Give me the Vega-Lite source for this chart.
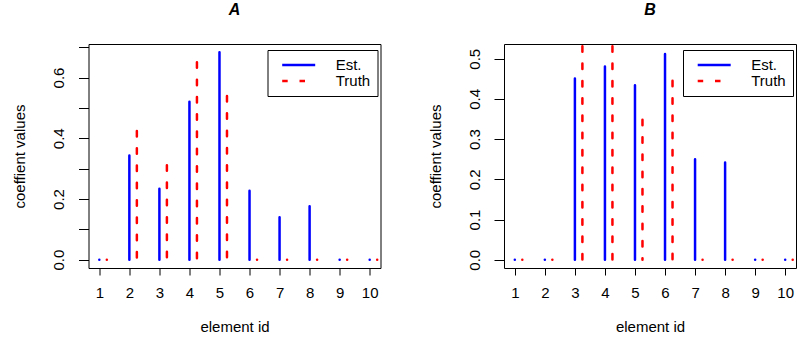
{
  "$schema": "https://vega.github.io/schema/vega-lite/v6.json",
  "background": "white",
  "padding": {"left": 11.5, "top": 1, "right": 0, "bottom": 0},
  "config": {
    "font": "Liberation Sans",
    "view": {"stroke": "#000000", "strokeWidth": 1},
    "axis": {"grid": false, "domain": false, "tickColor": "#000000", "tickWidth": 1, "labelColor": "#000000", "titleColor": "#000000", "labelFontSize": 15, "titleFontSize": 15, "titleFontWeight": "normal", "labelFont": "Liberation Sans", "titleFont": "Liberation Sans", "labelFlush": false, "labelOverlap": false},
    "title": {"fontSize": 16, "fontWeight": "bold", "fontStyle": "italic", "font": "Liberation Sans", "offset": 26, "color": "#000000", "anchor": "middle", "frame": "group"},
    "legend": {"labelFont": "Liberation Sans", "labelFontSize": 15, "labelColor": "#000000"}
  },
  "datasets": {
    "A": [
      {"id": 1, "series": "Est.", "value": 0}, {"id": 2, "series": "Est.", "value": 0.343}, {"id": 3, "series": "Est.", "value": 0.234}, {"id": 4, "series": "Est.", "value": 0.52}, {"id": 5, "series": "Est.", "value": 0.683}, {"id": 6, "series": "Est.", "value": 0.227}, {"id": 7, "series": "Est.", "value": 0.14}, {"id": 8, "series": "Est.", "value": 0.176}, {"id": 9, "series": "Est.", "value": 0}, {"id": 10, "series": "Est.", "value": 0},
      {"id": 1, "series": "Truth", "value": 0}, {"id": 2, "series": "Truth", "value": 0.424}, {"id": 3, "series": "Truth", "value": 0.311}, {"id": 4, "series": "Truth", "value": 0.65}, {"id": 5, "series": "Truth", "value": 0.539}, {"id": 6, "series": "Truth", "value": 0}, {"id": 7, "series": "Truth", "value": 0}, {"id": 8, "series": "Truth", "value": 0}, {"id": 9, "series": "Truth", "value": 0}, {"id": 10, "series": "Truth", "value": 0}
    ],
    "B": [
      {"id": 1, "series": "Est.", "value": 0}, {"id": 2, "series": "Est.", "value": 0}, {"id": 3, "series": "Est.", "value": 0.451}, {"id": 4, "series": "Est.", "value": 0.481}, {"id": 5, "series": "Est.", "value": 0.434}, {"id": 6, "series": "Est.", "value": 0.512}, {"id": 7, "series": "Est.", "value": 0.25}, {"id": 8, "series": "Est.", "value": 0.242}, {"id": 9, "series": "Est.", "value": 0}, {"id": 10, "series": "Est.", "value": 0},
      {"id": 1, "series": "Truth", "value": 0}, {"id": 2, "series": "Truth", "value": 0}, {"id": 3, "series": "Truth", "value": 0.574}, {"id": 4, "series": "Truth", "value": 0.574}, {"id": 5, "series": "Truth", "value": 0.348}, {"id": 6, "series": "Truth", "value": 0.445}, {"id": 7, "series": "Truth", "value": 0}, {"id": 8, "series": "Truth", "value": 0}, {"id": 9, "series": "Truth", "value": 0}, {"id": 10, "series": "Truth", "value": 0}
    ]
  },
  "spacing": 45.5,
  "resolve": {"legend": {"color": "independent", "strokeDash": "independent"}},
  "hconcat": [
    {
      "width": 292, "height": 224,
      "title": "A",
      "data": {"name": "A"},
      "encoding": {
        "x": {"field": "id", "type": "quantitative", "scale": {"domain": [0.64, 10.36], "nice": false, "zero": false}, "axis": {"values": [1, 2, 3, 4, 5, 6, 7, 8, 9, 10], "title": "element id", "tickSize": 7, "labelPadding": 10, "titlePadding": 19}},
        "y": {"field": "value", "type": "quantitative", "scale": {"domain": [-0.0274, 0.7105], "nice": false, "zero": false}, "axis": {"values": [0, 0.1, 0.2, 0.3, 0.4, 0.5, 0.6, 0.7], "labelExpr": "round(datum.value*10) % 2 == 0 ? format(datum.value, '.1f') : ''", "title": "coeffient values", "tickSize": 10, "labelAngle": -90, "labelAlign": "center", "labelBaseline": "bottom", "labelPadding": 12, "titlePadding": 24}},
        "y2": {"datum": 0},
        "color": {"field": "series", "type": "nominal", "scale": {"domain": ["Est.", "Truth"], "range": ["#0000ff", "#ff0000"]}, "legend": {"title": null, "orient": "none", "legendX": 179, "legendY": 6, "strokeColor": "#000000", "fillColor": "white", "padding": 7, "symbolType": "stroke", "symbolSize": 1089, "symbolStrokeWidth": 2.5, "labelOffset": 19, "rowPadding": 0, "clipHeight": 16, "symbolOffset": 6.2}},
        "strokeDash": {"field": "series", "type": "nominal", "scale": {"domain": ["Est.", "Truth"], "range": [[1, 0], [5.5, 11.8]]}, "legend": {"title": null, "orient": "none", "legendX": 179, "legendY": 6, "strokeColor": "#000000", "fillColor": "white", "padding": 7, "symbolType": "stroke", "symbolSize": 1089, "symbolStrokeWidth": 2.5, "labelOffset": 19, "rowPadding": 0, "clipHeight": 16, "symbolOffset": 6.2}}
      },
      "layer": [
        {"transform": [{"filter": "datum.series == 'Est.'"}], "mark": {"type": "rule", "strokeWidth": 2.5, "strokeCap": "round", "clip": true}},
        {"transform": [{"filter": "datum.series == 'Truth'"}], "mark": {"type": "rule", "strokeWidth": 2.5, "strokeCap": "round", "xOffset": 7.5, "clip": true}}
      ]
    },
    {
      "width": 292, "height": 224,
      "title": "B",
      "data": {"name": "B"},
      "encoding": {
        "x": {"field": "id", "type": "quantitative", "scale": {"domain": [0.64, 10.36], "nice": false, "zero": false}, "axis": {"values": [1, 2, 3, 4, 5, 6, 7, 8, 9, 10], "title": "element id", "tickSize": 7, "labelPadding": 10, "titlePadding": 19}},
        "y": {"field": "value", "type": "quantitative", "scale": {"domain": [-0.0206, 0.5367], "nice": false, "zero": false}, "axis": {"values": [0, 0.1, 0.2, 0.3, 0.4, 0.5], "format": ".1f", "title": "coeffient values", "tickSize": 10, "labelAngle": -90, "labelAlign": "center", "labelBaseline": "bottom", "labelPadding": 12, "titlePadding": 24}},
        "y2": {"datum": 0},
        "color": {"field": "series", "type": "nominal", "scale": {"domain": ["Est.", "Truth"], "range": ["#0000ff", "#ff0000"]}, "legend": {"title": null, "orient": "none", "legendX": 179, "legendY": 6, "strokeColor": "#000000", "fillColor": "white", "padding": 7, "symbolType": "stroke", "symbolSize": 1089, "symbolStrokeWidth": 2.5, "labelOffset": 19, "rowPadding": 0, "clipHeight": 16, "symbolOffset": 6.2}},
        "strokeDash": {"field": "series", "type": "nominal", "scale": {"domain": ["Est.", "Truth"], "range": [[1, 0], [5.5, 11.8]]}, "legend": {"title": null, "orient": "none", "legendX": 179, "legendY": 6, "strokeColor": "#000000", "fillColor": "white", "padding": 7, "symbolType": "stroke", "symbolSize": 1089, "symbolStrokeWidth": 2.5, "labelOffset": 19, "rowPadding": 0, "clipHeight": 16, "symbolOffset": 6.2}}
      },
      "layer": [
        {"transform": [{"filter": "datum.series == 'Est.'"}], "mark": {"type": "rule", "strokeWidth": 2.5, "strokeCap": "round", "clip": true}},
        {"transform": [{"filter": "datum.series == 'Truth'"}], "mark": {"type": "rule", "strokeWidth": 2.5, "strokeCap": "round", "xOffset": 7.5, "clip": true}}
      ]
    }
  ]
}
